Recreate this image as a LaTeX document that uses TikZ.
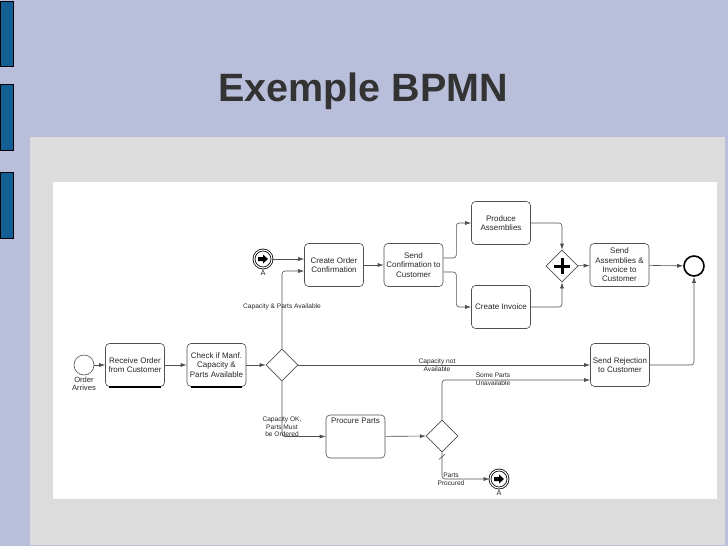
\documentclass[tikz,border=0pt]{standalone}
\usepackage{fontspec}
\setmainfont{Liberation Sans}
\usetikzlibrary{calc,shapes.geometric,arrows.meta}
\definecolor{slidebg}{HTML}{B9BFDA}
\definecolor{slidebar}{HTML}{135E93}
\definecolor{panelgrey}{HTML}{DCDCDC}
\definecolor{titlegrey}{HTML}{333333}
\definecolor{bpmnline}{HTML}{505050}
\def\taskfont{\fontsize{8}{9.4}\selectfont}
\def\labfont{\fontsize{6.6}{7.6}\selectfont}
\def\linkarrow(#1){\fill[black,shift={(#1)}] (-5,-2) -- (0,-2) -- (0,-4.5) -- (5,0) -- (0,4.5) -- (0,2) -- (-5,2) -- cycle;}

\begin{document}
\begin{tikzpicture}[x=1pt,y=-1pt,
	task/.style={draw=bpmnline,rectangle,rounded corners=4pt,minimum width=59pt,minimum height=43pt,
		align=center,font=\taskfont,text=black!85,inner sep=1pt,line width=0.6pt},
	gateway/.style={draw=bpmnline,diamond,minimum width=32pt,minimum height=32pt,inner sep=0pt,line width=0.6pt},
	startev/.style={draw=bpmnline,circle,minimum size=20pt,inner sep=0pt,line width=0.6pt},
	endev/.style={draw=black,circle,minimum size=20pt,inner sep=0pt,line width=1.6pt},
	linkev/.style={draw=black,circle,double,double distance=1.1pt,minimum size=18pt,inner sep=0pt,line width=0.8pt},
	flow/.style={draw=bpmnline,line width=0.6pt,-{Latex[length=6pt,width=4pt]}},
	lab/.style={font=\labfont,align=center,text=black!85,inner sep=0pt}]
		%%%%% SLIDE %%%%%
		
		\useasboundingbox (0,0) rectangle (728,546);
		\fill[slidebg] (0,0) rectangle (728,546);
		\draw[fill=slidebar,line width=0.5pt] (0,1) rectangle (13,66);
		\draw[fill=slidebar,line width=0.5pt] (0,84) rectangle (13,150);
		\draw[fill=slidebar,line width=0.5pt] (0,172) rectangle (13,238);
		\fill[panelgrey] (30,137) rectangle (725,545);
		\fill[white] (53,182) rectangle (717,499);
		
		\node[anchor=base,text=titlegrey,font=\fontsize{39.5}{40}\selectfont\bfseries] (title) at (363,101) {Exemple BPMN};
		
		%%%%% PROCESS %%%%%
		
		\node[startev,label={[lab,font=\fontsize{7.6}{8.6}\selectfont,yshift=-1pt]below:Order\\Arrives}] (start) at (84,365) {};
		\node[task] (receive) at (135,365) {Receive Order\\from Customer};
		\node[task] (check) at (216.5,365) {Check if Manf.\\Capacity \&\\Parts Available};
		\node[gateway] (gw1) at (282,365) {};
		
		\node[linkev,label={[lab,font=\fontsize{7.4}{8}\selectfont,yshift=-2pt]below:A}] (linkA1) at (263,259) {};
		\linkarrow(linkA1)
		\node[task] (confirm) at (334,265) {Create Order\\Confirmation};
		\node[task] (sendconf) at (413.5,265) {Send\\Confirmation to\\Customer};
		\node[task] (produce) at (501,223) {Produce\\Assemblies};
		\node[task] (invoice) at (501,307) {Create Invoice};
		\node[gateway] (join) at (562,266) {};
		\draw[line width=3pt] ($(join)+(-8,0)$) -- ($(join)+(8,0)$);
		\draw[line width=3pt] ($(join)+(0,-8)$) -- ($(join)+(0,8)$);
		\node[task] (sendasm) at (619.5,265) {Send\\Assemblies \&\\Invoice to\\Customer};
		\node[endev] (finish) at (694,266) {};
		
		\node[task] (reject) at (620,365) {Send Rejection\\to Customer};
		\node[task,label={[lab,font=\taskfont,anchor=north,yshift=-3pt]north:Procure Parts}] (procure) at (355.5,436.5) {};
		\node[gateway] (gw2) at (442,436) {};
		\node[linkev,label={[lab,font=\fontsize{7.4}{8}\selectfont,yshift=-2pt]below:A}] (linkA2) at (499,479) {};
		\linkarrow(linkA2)
		
		% heavier lower edge on the first two tasks
		\draw[line width=1.4pt] ([xshift=4pt]receive.south west) -- ([xshift=-4pt]receive.south east);
		\draw[line width=1.4pt] ([xshift=4pt]check.south west) -- ([xshift=-4pt]check.south east);
		
		%%%%% FLOWS %%%%%
		
		\draw[flow] (start) -- (receive);
		\draw[flow] (receive) -- (check);
		\draw[flow] (check) -- (gw1);
		\draw[flow,rounded corners=3pt] (gw1.north) |- ([yshift=-6pt]confirm.west);
		\draw[flow] (linkA1) -- (confirm.west |- linkA1);
		\draw[flow] (confirm) -- (sendconf);
		\draw[flow,rounded corners=3pt] ([yshift=7pt]sendconf.east) -- ++(13,0) |- (produce.west);
		\draw[flow,rounded corners=3pt] ([yshift=-7pt]sendconf.east) -- ++(13,0) |- (invoice.west);
		\draw[flow,rounded corners=3pt] (produce.east) -| (join.north);
		\draw[flow,rounded corners=3pt] (invoice.east) -| (join.south);
		\draw[flow] (join) -- (sendasm);
		\draw[flow] (sendasm) -- (finish);
		\draw[flow] (gw1.east) -- (reject.west);
		\draw[flow,rounded corners=3pt] (gw1.south) |- (procure.west);
		\draw[flow] (procure) -- (gw2);
		\draw[flow,rounded corners=3pt] (gw2.north) |- ([yshift=-15pt]reject.west);
		\draw[flow,rounded corners=3pt] (gw2.south) |- (linkA2);
		\draw[flow,rounded corners=3pt] (reject.east) -| (finish.south);
		\draw[draw=bpmnline,line width=0.6pt] ($(gw2.south)+(-3,7)$) -- ($(gw2.south)+(3,2)$);
		
		%%%%% LABELS %%%%%
		
		\node[lab] (lcapparts) at (282,307) {Capacity \& Parts Available};
		\node[lab] (lcapnot) at (437,365) {Capacity not\\Available};
		\node[lab] (lsome) at (493,379) {Some Parts\\Unavailable};
		\node[lab] (lcapok) at (282,427) {Capacity OK,\\Parts Must\\be Ordered};
		\node[lab] (lprocured) at (451,479) {Parts\\Procured};
		
		%%%%% END %%%%%
\end{tikzpicture}
\end{document}
